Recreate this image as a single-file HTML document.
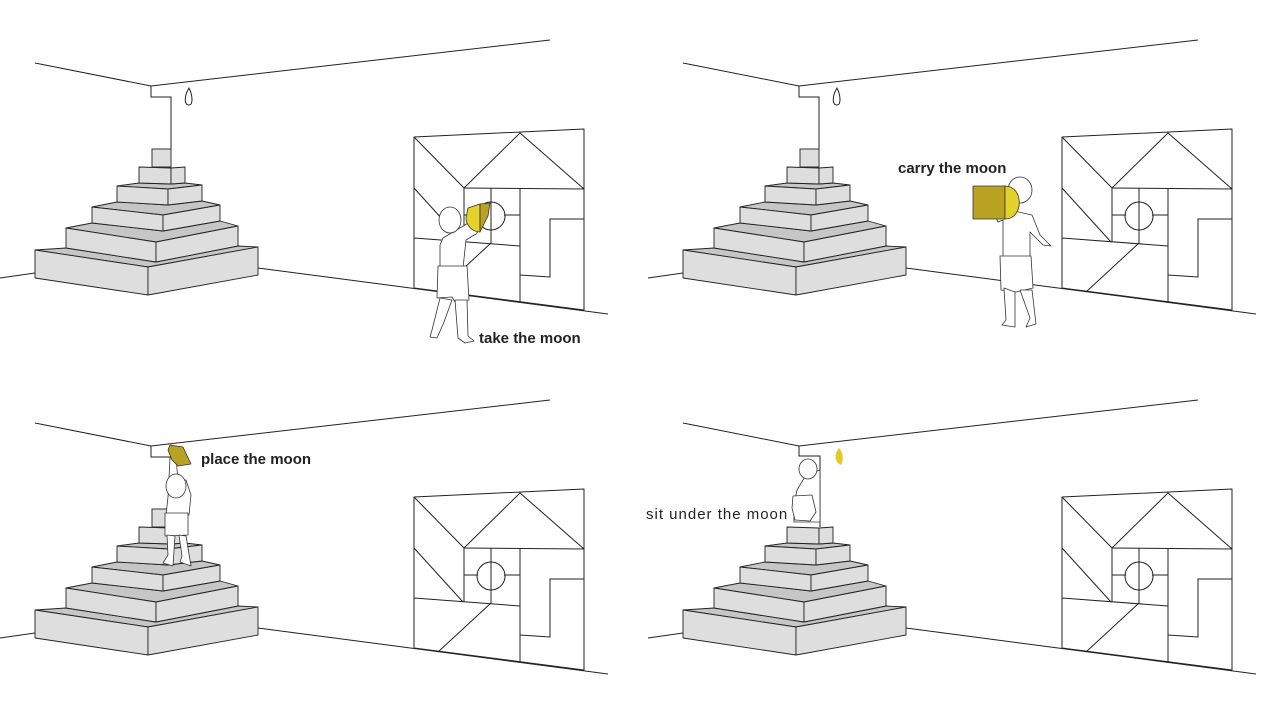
<!DOCTYPE html>
<html><head><meta charset="utf-8"><style>
html,body{margin:0;padding:0;background:#fff;}
svg{display:block;}
text{font-family:"Liberation Sans","DejaVu Sans",sans-serif;font-size:15px;fill:#222;}
</style></head><body>
<svg width="1280" height="720" viewBox="0 0 1280 720" xmlns="http://www.w3.org/2000/svg">
<defs>
<g id="base" stroke="#222" stroke-width="1" fill="none" stroke-linejoin="round">
  <polyline points="35,63 151,86 550,40"/>
  <line x1="0" y1="278" x2="35" y2="273"/>
  <line x1="258" y1="268" x2="608" y2="314"/>
  <g fill="#fff">
  <polygon points="414,137 584,129 584,310 414,288"/>
  </g>
  <polyline points="464,188 520,133 584,189"/>
  <line x1="464" y1="188" x2="584" y2="189"/>
  <line x1="414" y1="137" x2="464" y2="188"/>
  <line x1="414" y1="188" x2="463" y2="242"/>
  <line x1="464" y1="188" x2="464" y2="242"/>
  <polyline points="491,188 491,243 438,292"/>
  <line x1="464" y1="215" x2="478" y2="215"/>
  <line x1="504" y1="215" x2="520" y2="215"/>
  <circle cx="491" cy="216" r="14"/>
  <line x1="520" y1="189" x2="520" y2="303"/>
  <line x1="414" y1="238" x2="520" y2="246"/>
  <polyline points="584,219 550,219 550,277 520,275"/>
  <g stroke-width="0.9">
  <polygon fill="#c6c6c6" points="35,250 148,267 258,247 238,246 156,262 66,248"/>
  <polygon fill="#dedede" points="35,250 148,267 148,295 35,278"/>
  <polygon fill="#dedede" points="148,267 258,247 258,275 148,295"/>
  <polygon fill="#c6c6c6" points="66,228 156,242 238,226 220,221 163,231 92,223"/>
  <polygon fill="#dedede" points="66,228 156,242 156,262 66,248"/>
  <polygon fill="#dedede" points="156,242 238,226 238,246 156,262"/>
  <polygon fill="#c6c6c6" points="92,207 163,215 220,205 202,201 168,205 117,202"/>
  <polygon fill="#dedede" points="92,207 163,215 163,231 92,223"/>
  <polygon fill="#dedede" points="163,215 220,205 220,221 163,231"/>
  <polygon fill="#c6c6c6" points="117,186 168,189 202,185 185,183 171,184 139,183"/>
  <polygon fill="#dedede" points="117,186 168,189 168,205 117,202"/>
  <polygon fill="#dedede" points="168,189 202,185 202,201 168,205"/>
  <polygon fill="#dedede" points="139,167 171,168 171,184 139,183"/>
  <polygon fill="#dedede" points="171,168 185,167 185,183 171,184"/>
  </g>
</g>
<g id="top" stroke="#222" stroke-width="1" fill="none">
  <rect x="152" y="149" width="19" height="18" fill="#dedede" stroke-width="0.9"/>
  <path d="M151,86 V97 H171 V149"/>
</g>
<path id="drop" d="M189,88 C184,96 184,105 189,105 C193,105 193,96 189,88Z" fill="none" stroke="#222" stroke-width="1"/>
</defs>

<use href="#base"/>
<use href="#top"/>
<use href="#drop"/>

<use href="#base" transform="translate(648,0)"/>
<use href="#top" transform="translate(648,0)"/>
<use href="#drop" transform="translate(648,0)"/>

<use href="#base" transform="translate(0,360)"/>
<use href="#top" transform="translate(0,360)"/>

<use href="#base" transform="translate(648,360)"/>
<path d="M799,446 V456 H820 V527" fill="none" stroke="#222"/>
<path d="M839,448 C834,454 834,462 841,465 C844,460 843,452 839,448Z" fill="#e0cc25"/>

<g stroke="#333" stroke-width="0.8" fill="#fff" stroke-linejoin="round">
  <path d="M443,238 L470,222 L482,226 L476,234 L466,240 L463,268 L440,268 L440,245Z"/>
  <path d="M438,266 L467,266 L469,300 L455,302 L452,297 L437,298Z"/>
  <path d="M440,298 L432,330 L430,337 L437,338 L444,322 L452,300Z"/>
  <path d="M455,300 L458,338 L465,343 L474,341 L468,336 L467,300Z"/>
  <ellipse cx="450" cy="220" rx="11" ry="13"/>
  <path d="M468,208 L480,204 L480,232 C472,232 466,225 466,218Z" fill="#e3d22c"/>
  <path d="M480,204 L490,203 L488,216 L480,232Z" fill="#b9a222"/>
  <path d="M990,205 L998,222 L1003,220 L1003,258 L1030,258 L1030,232 L1043,245 L1051,246 L1040,235 L1032,215 L1010,210Z"/>
  <path d="M1000,256 L1031,256 L1033,288 L1016,292 L1001,290Z"/>
  <path d="M1004,288 L1006,320 L1002,325 L1015,327 L1015,292Z"/>
  <path d="M1020,290 L1030,318 L1026,327 L1036,324 L1032,290Z"/>
  <ellipse cx="1020" cy="190" rx="12" ry="13"/>
  <rect x="973" y="186" width="32" height="33" fill="#b9a222"/>
  <path d="M1005,186 C1024,186 1024,219 1005,219Z" fill="#e3d22c"/>
  <path d="M170,458 L176,458 L178,480 L186,480 L191,495 L189,515 L166,515 L168,497Z"/>
  <path d="M165,513 L188,513 L188,535 L165,536Z"/>
  <path d="M167,535 L168,555 L163,563 L173,566 L175,536Z"/>
  <path d="M179,535 L182,556 L180,562 L191,566 L186,536Z"/>
  <ellipse cx="176" cy="486" rx="10" ry="12"/>
  <path d="M170,445 L183,447 L191,464 L178,466 L172,460 L168,450Z" fill="#b9a222"/>
  <path d="M806,475 L820,470 L820,522 L794,522 L794,505 L797,490 L803,480Z"/>
  <path d="M793,496 L812,495 L816,512 L810,521 L795,520 L792,508Z"/>
  <ellipse cx="808" cy="469" rx="9" ry="10"/>
</g>

<text x="479" y="343" font-weight="bold">take the moon</text>
<text x="898" y="173" font-weight="bold">carry the moon</text>
<text x="201" y="464" font-weight="bold">place the moon</text>
<text x="646" y="519" letter-spacing="1">sit under the moon</text>
</svg>
</body></html>
